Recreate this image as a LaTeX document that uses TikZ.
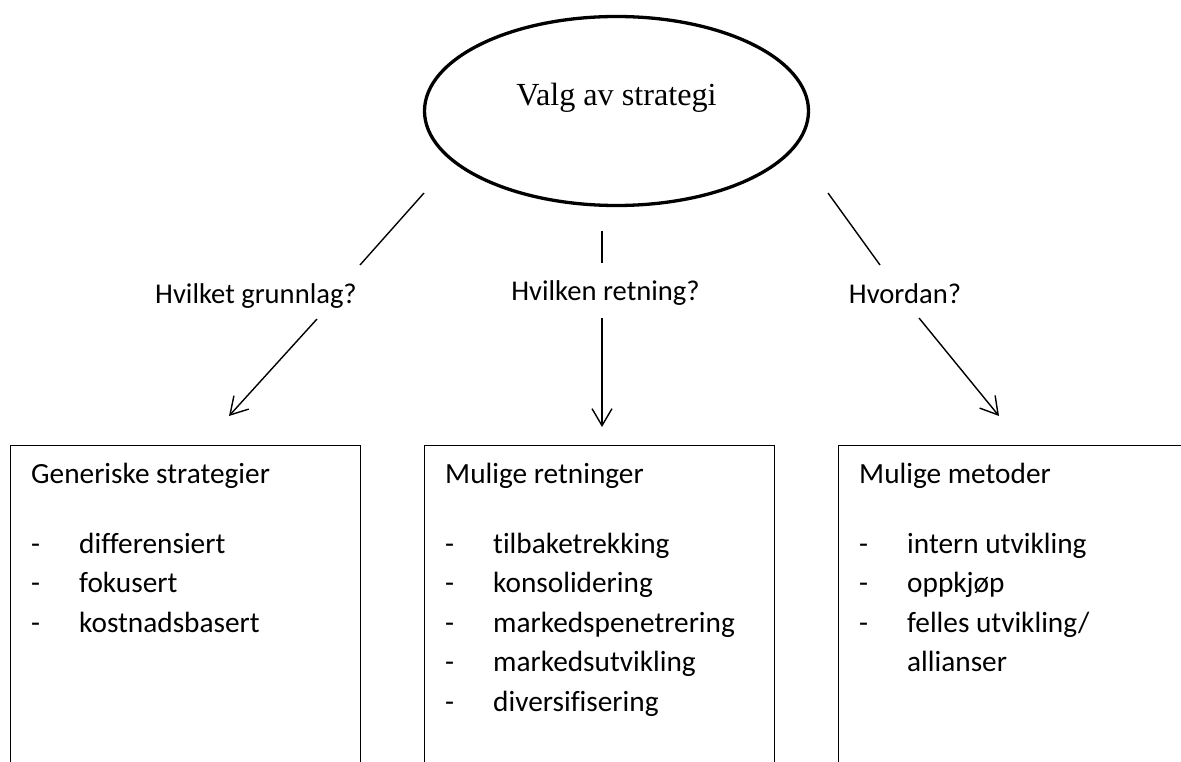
\documentclass[tikz,border=0pt]{standalone}
\usepackage{fontspec}
\setmainfont{Carlito}[Ligatures=NoCommon]
\newfontfamily\timesfont{Liberation Serif}
\usetikzlibrary{shapes.geometric,arrows.meta}

\def\itemGap{39.5}
\def\firstItem{553}
\def\listItems#1#2#3{
  \foreach \txt [count=\i] in {#3}{
    \pgfmathsetmacro\yy{\firstItem+\itemGap*(\i-1)}
    \node[itemtext] (#1-dash\i) at (#2+21,\yy) {-};
    \node[itemtext] (#1-item\i) at (#2+69,\yy) {\txt};
  }%
}

\begin{document}
\begin{tikzpicture}[x=1pt,y=-1pt,
  strat/.style={ellipse,draw,line width=3.3pt,minimum width=384pt,minimum height=189pt,
    font=\timesfont\fontsize{32.2}{38}\selectfont,text height=22pt,text depth=32pt},
  question/.style={anchor=base,inner sep=0pt,font=\fontsize{28.6}{33}\selectfont},
  listbox/.style={draw,line width=1.3pt,anchor=north west,minimum width=#1,minimum height=420pt},
  headtext/.style={anchor=base west,inner sep=0pt,font=\fontsize{29.3}{33}\selectfont},
  itemtext/.style={headtext},
  conn/.style={line width=1.4pt},
  flowarrow/.style={conn,-{Straight Barb[length=17pt,width=20pt]}}]
  \useasboundingbox (0,0) rectangle (1181,762);
  \clip (0,0) rectangle (1181,762);

  \node[strat] (valg) at (616.5,111) {Valg av strategi};

  %% the three questions
  \node[question] (grunnlag) at (256,303) {Hvilket grunnlag?};
  \node[question] (retning) at (605.5,300) {Hvilken retning?};
  \node[question] (hvordan) at (905,303) {Hvordan?};

  \coordinate (l1) at (424,193);  \coordinate (l2) at (360,265);
  \coordinate (l3) at (317,319);  \coordinate (l4) at (229,416);
  \coordinate (m1) at (602,231);  \coordinate (m2) at (602,263);
  \coordinate (m3) at (602,318);  \coordinate (m4) at (602,427);
  \coordinate (r1) at (828,193);  \coordinate (r2) at (880,265);
  \coordinate (r3) at (919,318);  \coordinate (r4) at (999,416);

  \draw[conn] (l1) -- (l2);
  \draw[flowarrow] (l3) -- (l4);
  \draw[conn] (m1) -- (m2);
  \draw[flowarrow] (m3) -- (m4);
  \draw[conn] (r1) -- (r2);
  \draw[flowarrow] (r3) -- (r4);

  %% boxes
  \node[listbox=350pt] (gen) at (10,445) {};
  \node[listbox=350pt] (ret) at (424,445) {};
  \node[listbox=420pt] (met) at (838,445) {};

  \node[headtext] (gen-head) at (31,483) {Generiske strategier};
  \node[headtext] (ret-head) at (445,483) {Mulige retninger};
  \node[headtext] (met-head) at (859,483) {Mulige metoder};

  \listItems{gen}{10}{differensiert,fokusert,kostnadsbasert}
  \listItems{ret}{424}{tilbaketrekking,konsolidering,markedspenetrering,markedsutvikling,diversifisering}
  \listItems{met}{838}{intern utvikling,oppkjøp,felles utvikling/}
  \node[itemtext] (met-item4) at (907,671.5) {allianser};
\end{tikzpicture}
\end{document}
